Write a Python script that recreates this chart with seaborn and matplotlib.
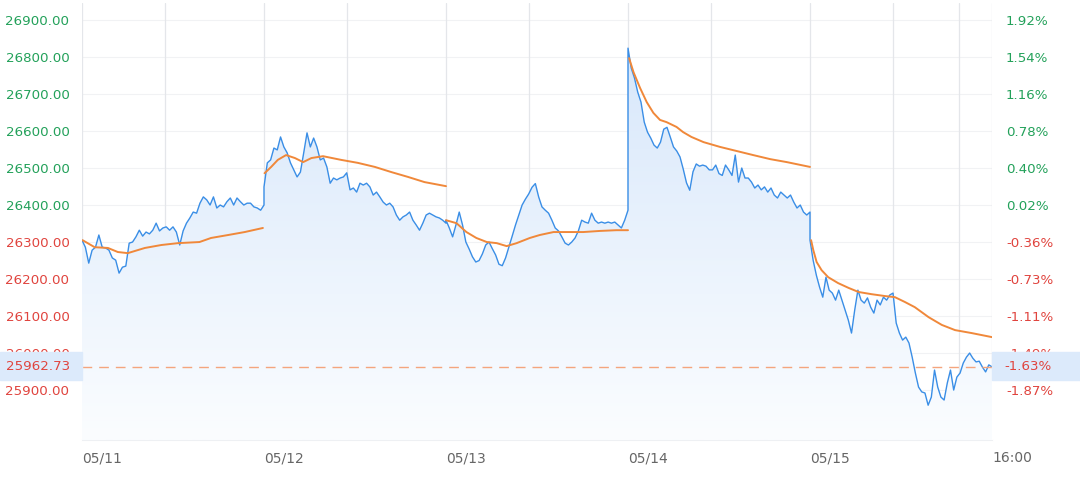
import numpy as np
import pandas as pd
import seaborn as sns
import matplotlib.pyplot as plt
from matplotlib.colors import LinearSegmentedColormap
from matplotlib.patches import Rectangle

# цены по дням (минутные точки, 09:30-16:00 без обеда = 330 мин)
day1 = [26305, 26286, 26243, 26278, 26286, 26319, 26286, 26284, 26278, 26257,
        26251, 26216, 26232, 26235, 26297, 26300, 26314, 26332, 26316, 26327,
        26322, 26332, 26351, 26330, 26338, 26341, 26332, 26341, 26327, 26292,
        26330, 26351, 26365, 26381, 26378, 26405, 26422, 26414, 26400, 26422,
        26392, 26400, 26395, 26409, 26419, 26400, 26419, 26409, 26400, 26405,
        26405, 26395, 26392, 26386, 26400]
day2 = [26449, 26514, 26522, 26554, 26549, 26584, 26557, 26541, 26514, 26495,
        26476, 26489, 26541, 26595, 26557, 26581, 26557, 26522, 26527, 26503,
        26459, 26473, 26468, 26473, 26476, 26487, 26441, 26446, 26435, 26459,
        26454, 26459, 26449, 26427, 26435, 26422, 26408, 26400, 26405, 26395,
        26373, 26359, 26368, 26373, 26381, 26359, 26346, 26332, 26351, 26373,
        26378, 26373, 26368, 26365, 26359, 26351]
day3 = [26359, 26338, 26314, 26346, 26381, 26346, 26300, 26281, 26260, 26246,
        26250, 26268, 26292, 26300, 26282, 26265, 26240, 26236, 26257, 26286,
        26316, 26346, 26373, 26400, 26416, 26430, 26448, 26458, 26422, 26395,
        26386, 26378, 26359, 26338, 26330, 26314, 26297, 26292, 26300, 26311,
        26330, 26359, 26354, 26351, 26378, 26359, 26351, 26354, 26351, 26354,
        26351, 26354, 26346, 26338, 26359, 26386]
day4 = [26824, 26770, 26743, 26705, 26678, 26624, 26597, 26581, 26562, 26554,
        26570, 26605, 26610, 26584, 26557, 26546, 26530, 26497, 26460, 26440,
        26490, 26511, 26505, 26508, 26505, 26495, 26495, 26508, 26485, 26480,
        26508, 26495, 26480, 26535, 26462, 26500, 26473, 26473, 26462, 26446,
        26454, 26441, 26449, 26435, 26446, 26427, 26419, 26435, 26427, 26419,
        26427, 26408, 26392, 26400, 26381, 26373, 26381]
day5 = [26305, 26250, 26210, 26178, 26151, 26205, 26170, 26162, 26143, 26170,
        26143, 26116, 26089, 26054, 26116, 26170, 26143, 26135, 26149, 26124,
        26108, 26143, 26130, 26151, 26143, 26157, 26162, 26081, 26054, 26035,
        26043, 26027, 25989, 25946, 25908, 25895, 25892, 25859, 25881, 25954,
        25908, 25881, 25873, 25919, 25954, 25900, 25935, 25946, 25973, 25989,
        26000, 25986, 25976, 25978, 25962, 25949, 25968, 25962.73]

# средняя цена (минуты от начала дня, значение)
avg1_t = [1, 23, 47, 65, 83, 114, 144, 174, 213, 234, 265, 295, 328]
avg1 = [26305, 26286, 26284, 26273, 26270, 26284, 26292, 26297, 26300, 26311, 26319, 26327, 26338]
avg2_t = [1, 13, 25, 40, 56, 71, 86, 107, 140, 170, 201, 231, 261, 291, 330]
avg2 = [26486, 26503, 26522, 26535, 26527, 26516, 26527, 26532, 26522, 26514, 26503, 26489, 26476, 26462, 26451]
avg3_t = [0, 19, 37, 55, 74, 92, 110, 128, 152, 170, 195, 219, 249, 279, 309, 330]
avg3 = [26359, 26351, 26327, 26311, 26300, 26297, 26289, 26297, 26311, 26319, 26327, 26327, 26327, 26330, 26332, 26332]
avg4_t = [2, 10, 22, 34, 46, 58, 70, 88, 100, 115, 137, 167, 197, 227, 258, 288, 330]
avg4 = [26797, 26759, 26716, 26678, 26649, 26630, 26624, 26611, 26597, 26584, 26570, 26557, 26546, 26535, 26524, 26516, 26503]
avg5_t = [2, 6, 12, 21, 33, 51, 70, 88, 112, 136, 154, 172, 190, 215, 239, 263, 293, 330]
avg5 = [26305, 26278, 26246, 26224, 26205, 26189, 26176, 26165, 26159, 26154, 26151, 26138, 26124, 26097, 26076, 26062, 26054, 26043]

last_price = 25962.73
last_pct = '-1.63%'
y_ticks = [25900, 26000, 26100, 26200, 26300, 26400, 26500, 26600, 26700, 26800, 26900]
pct_labels = ['-1.87%', '-1.49%', '-1.11%', '-0.73%', '-0.36%', '0.02%',
              '0.40%', '0.78%', '1.16%', '1.54%', '1.92%']
x_labels = ['05/11', '05/12', '05/13', '05/14', '05/15', '16:00']

GREEN = '#23a15a'
RED = '#e0443e'
BLUE = '#3a8ee6'
ORANGE = '#f0883a'
DAY = 330

# таблицы
rows = []
for d, vals in enumerate([day1, day2, day3, day4, day5]):
    for m, v in zip(np.linspace(0, DAY, len(vals)), vals):
        rows.append({'t': d * DAY + m, 'price': v, 'day': d})
df = pd.DataFrame(rows)

arows = []
for d, (tt, vv) in enumerate([(avg1_t, avg1), (avg2_t, avg2), (avg3_t, avg3),
                              (avg4_t, avg4), (avg5_t, avg5)]):
    for m, v in zip(tt, vv):
        arows.append({'t': d * DAY + m, 'avg': v, 'day': d})
df_avg = pd.DataFrame(arows)

sns.set_style('white')
plt.rcParams['font.family'] = ['DejaVu Sans']

fig = plt.figure(figsize=(10.8, 4.8), dpi=100)
ax = fig.add_axes([82 / 1080, 40 / 480, 910 / 1080, 437 / 480])

ymin, ymax = 25765, 26946
xmin, xmax = 0, 5 * DAY

# заливка градиентом под линией
cmap = LinearSegmentedColormap.from_list('fill', ['#d4e5fa', '#fbfdff'])
grad = np.linspace(0, 1, 256).reshape(-1, 1)
im = ax.imshow(grad, extent=[xmin, xmax, ymin, ymax], origin='upper',
               aspect='auto', cmap=cmap, zorder=1)
poly = ax.fill_between(df['t'], df['price'], ymin, color='none', lw=0)
im.set_clip_path(poly.get_paths()[0], transform=ax.transData)

sns.lineplot(data=df, x='t', y='price', estimator=None, sort=False,
             color=BLUE, lw=1.0, ax=ax, zorder=3)
sns.lineplot(data=df_avg, x='t', y='avg', units='day', estimator=None,
             color=ORANGE, lw=1.4, ax=ax, zorder=4)

ax.axhline(last_price, color='#f4a57e', lw=1, ls=(0, (7, 5)), zorder=5)

# сетка
for y in y_ticks:
    ax.axhline(y, color='#f1f2f4', lw=0.8, zorder=0)
vlines = [0, 150, 330, 480, 660, 810, 990, 1140, 1320, 1470, 1590, 1650]
for x in vlines:
    ax.axvline(x, color='#e4e6ea', lw=0.9, zorder=0)

ax.set_xlim(xmin, xmax)
ax.set_ylim(ymin, ymax)
for s in ['top', 'right', 'left']:
    ax.spines[s].set_visible(False)
ax.spines['bottom'].set_color('#eef0f3')
ax.set_xlabel('')
ax.set_ylabel('')

ax.set_xticks([i * DAY for i in range(6)])
ax.set_xticklabels(x_labels, color='#666666', fontsize=10, ha='left')
ax.tick_params(axis='x', length=0, pad=8)

ax.set_yticks(y_ticks)
ax.set_yticklabels([f'{v:.2f}' for v in y_ticks], fontsize=9.6)
ax.tick_params(axis='y', length=0, pad=9)
for lab, v in zip(ax.get_yticklabels(), y_ticks):
    lab.set_color(GREEN if v >= 26393 else RED)

ax2 = ax.twinx()
ax2.set_ylim(ymin, ymax)
ax2.set_yticks(y_ticks)
ax2.set_yticklabels(pct_labels, fontsize=9.6)
ax2.tick_params(axis='y', length=0, pad=10)
for lab, v in zip(ax2.get_yticklabels(), y_ticks):
    lab.set_color(GREEN if v >= 26393 else RED)
for s in ax2.spines.values():
    s.set_visible(False)

# плашки текущей цены
yb0, yb1 = (480 - 380) / 480, 28 / 480
fig.add_artist(Rectangle((0, yb0), 82 / 1080, yb1, transform=fig.transFigure,
                         color='#dceafb', zorder=10))
fig.add_artist(Rectangle((992 / 1080, yb0), 88 / 1080, yb1, transform=fig.transFigure,
                         color='#dceafb', zorder=10))
fig.text(70 / 1080, yb0 + yb1 / 2, f'{last_price:.2f}', color=RED, fontsize=9.6,
         ha='right', va='center', zorder=11)
fig.text(1004 / 1080, yb0 + yb1 / 2, last_pct, color=RED, fontsize=9.6,
         ha='left', va='center', zorder=11)

fig.savefig('out.png', dpi=100)
